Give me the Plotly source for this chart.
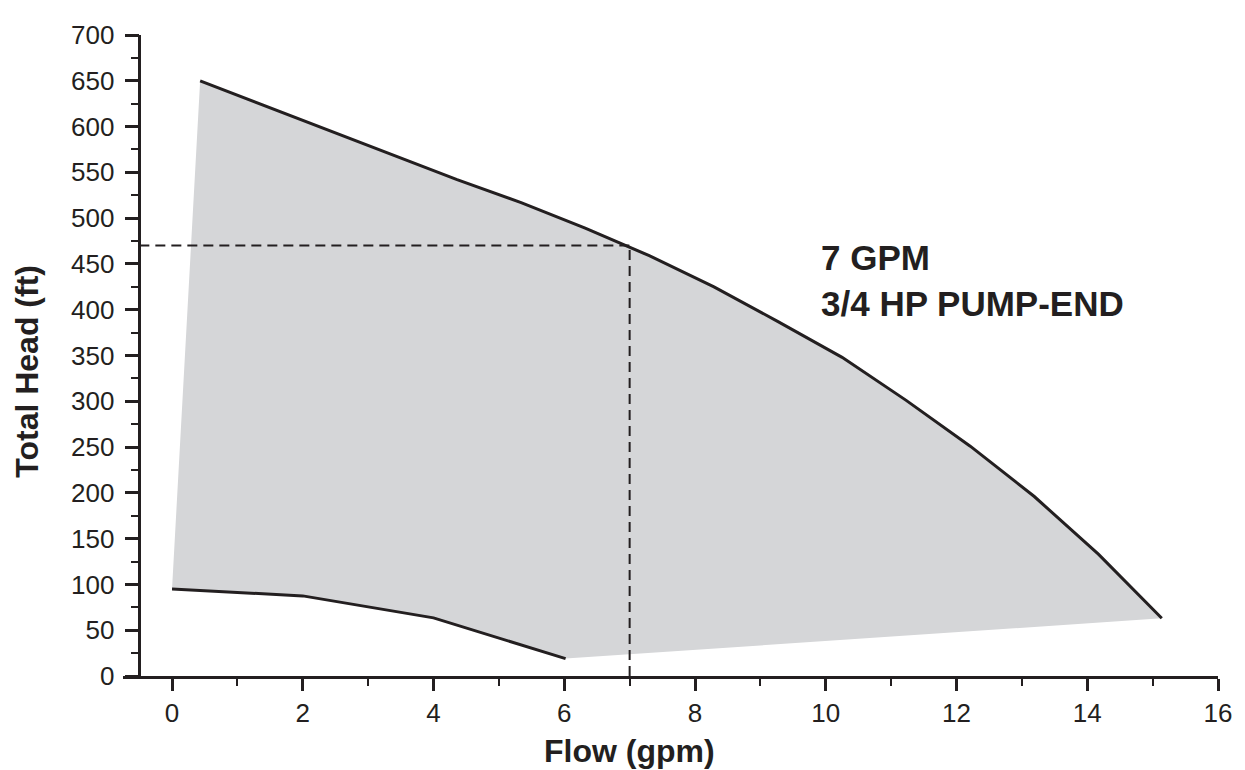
import plotly.graph_objects as go

# ---- data ----
upper_flow = [0.43, 1.41, 2.39, 3.37, 4.36, 5.34, 6.32, 7.30, 8.29, 9.27, 10.25, 11.23, 12.21, 13.19, 14.17, 15.14]
upper_head = [650, 623, 596, 569, 542, 517, 489, 459, 425, 387, 348, 301, 251, 196, 133, 63]
lower_flow = [0.0, 2.0, 4.0, 6.02]
lower_head = [95, 87.5, 63.5, 19]
ref_flow = 7
ref_head = 470
y_axis_at = -0.5
x_ticks = [0, 2, 4, 6, 8, 10, 12, 14, 16]
y_ticks = list(range(0, 701, 50))

INK = "#231f20"
FONT = "Liberation Sans, Arial, Helvetica, sans-serif"

fig = go.Figure()

# shaded operating region
fig.add_trace(go.Scatter(
    x=upper_flow + lower_flow[::-1],
    y=upper_head + lower_head[::-1],
    fill="toself", fillcolor="#d5d6d8", mode="none", hoverinfo="skip",
    showlegend=False))

# reference dashed lines
fig.add_trace(go.Scatter(x=[y_axis_at, ref_flow], y=[ref_head, ref_head], mode="lines",
                         line=dict(color=INK, width=2, dash="10px,6px"), showlegend=False))
fig.add_trace(go.Scatter(x=[ref_flow, ref_flow], y=[0, ref_head], mode="lines",
                         line=dict(color=INK, width=2, dash="10px,6px"), showlegend=False))

# curves
fig.add_trace(go.Scatter(x=upper_flow, y=upper_head, mode="lines",
                         line=dict(color=INK, width=3), showlegend=False))
fig.add_trace(go.Scatter(x=lower_flow, y=lower_head, mode="lines",
                         line=dict(color=INK, width=3), showlegend=False))

# page has an 8px body margin -> compensate
OFF = 8
W, H = 1245 - OFF, 770 - OFF
L, R, T, B = 123 - OFF, 27, 25 - OFF, 94
pw = W - L - R
ph = H - T - B
x0, x1 = -0.75, 16.0
ypos = (y_axis_at - x0) / (x1 - x0)

fig.update_layout(
    width=W, height=H,
    margin=dict(l=L, r=R, t=T, b=B),
    plot_bgcolor="white", paper_bgcolor="white",
    font=dict(family=FONT, color=INK, size=26),
    xaxis=dict(range=[x0, x1], domain=[0, 1], tickvals=x_ticks,
               showgrid=False, zeroline=False, showline=True, linewidth=2.5, linecolor=INK,
               ticks="outside", ticklen=12, tickwidth=2.5, tickcolor=INK,
               minor=dict(dtick=1, tick0=0, ticks="outside", ticklen=7, tickwidth=2, tickcolor=INK, showgrid=False),
               tickfont=dict(size=26, family=FONT, color=INK), ticklabelstandoff=0),
    yaxis=dict(range=[0, 700], tickvals=y_ticks, anchor="free", position=ypos,
               showgrid=False, zeroline=False, showline=True, linewidth=2.5, linecolor=INK,
               ticks="outside", ticklen=14, tickwidth=2.5, tickcolor=INK,
               minor=dict(dtick=25, tick0=0, ticks="outside", ticklen=8, tickwidth=2, tickcolor=INK, showgrid=False),
               tickfont=dict(size=26, family=FONT, color=INK), ticklabelstandoff=5),
    annotations=[
        dict(text="<b>Flow (gpm)</b>", x=7.0, xref="x", y=(676 - 752) / 651, yref="paper",
             xanchor="center", yanchor="middle", showarrow=False,
             font=dict(size=32, family=FONT, color=INK)),
        dict(text="<b>Total Head (ft)</b>", x=(27 - 123) / pw, xref="paper", xanchor="center",
             y=(676 - 367) / 651, yref="paper", yanchor="middle", textangle=-90, showarrow=False,
             borderpad=0, font=dict(size=32, family=FONT, color=INK)),
        dict(text="<b>7 GPM<br>3/4 HP PUMP-END</b>", x=9.9, y=432, xref="x", yref="y",
             xanchor="left", yanchor="middle", align="left", showarrow=False,
             font=dict(size=35, family=FONT, color=INK)),
    ],
)

fig.write_html("out.html")
